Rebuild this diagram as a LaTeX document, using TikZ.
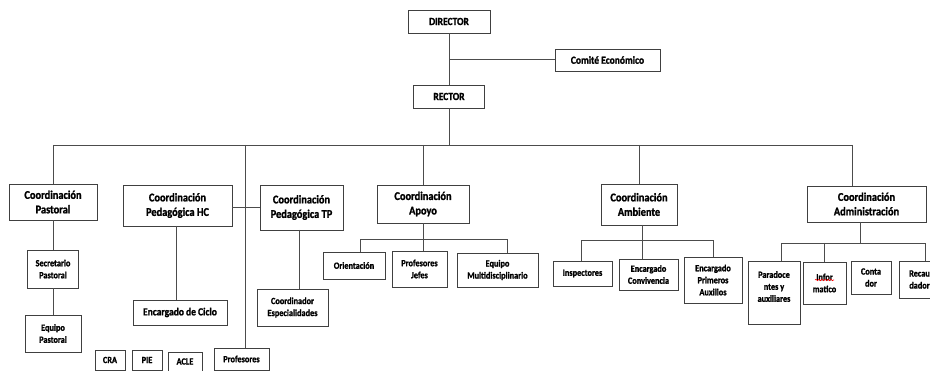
\documentclass[tikz,border=0pt]{standalone}
\usepackage{fontspec}
\setmainfont{Carlito}[FakeStretch=0.88, BoldFeatures={FakeBold=1.3}]
\usetikzlibrary{decorations.pathmorphing}
\begin{document}
\begin{tikzpicture}[x=1pt, y=-1pt, line width=0.9pt,
        box/.style={draw=black!75, inner sep=1pt, align=flush center, font=\bfseries\fontsize{9.4}{12}\selectfont},
        bigbox/.style={box, font=\bfseries\fontsize{11.8}{14.5}\selectfont},
        midbox/.style={box, font=\bfseries\fontsize{10.8}{13}\selectfont},
        link/.style={draw=black!70}]
    \useasboundingbox (0,0) rectangle (930,371);
    % top
    \node[midbox, minimum width=82pt, minimum height=23pt] (director) at (449,21.5) {DIRECTOR};
    \node[midbox, minimum width=105pt, minimum height=22pt] (comite) at (607.5,60) {Comité Económico};
    \node[midbox, minimum width=71pt, minimum height=23pt] (rector) at (449,96.5) {RECTOR};
    % coordinaciones
    \node[bigbox, minimum width=88pt, minimum height=36pt] (pastoral) at (53,202) {Coordinación\\Pastoral};
    \node[bigbox, minimum width=109pt, minimum height=41pt] (pedhc) at (177.5,205.5) {Coordinación\\Pedagógica HC};
    \node[bigbox, minimum width=83pt, minimum height=45pt] (pedtp) at (301.5,207.5) {Coordinación\\Pedagógica TP};
    \node[bigbox, minimum width=92pt, minimum height=38pt] (apoyo) at (423,204) {Coordinación\\Apoyo};
    \node[bigbox, minimum width=76pt, minimum height=41pt] (ambiente) at (639,204.5) {Coordinación\\Ambiente};
    \node[bigbox, minimum width=119pt, minimum height=36pt] (admin) at (866.5,204) {Coordinación\\Administración};
    % pastoral
    \node[box, minimum width=51pt, minimum height=38pt] (secretario) at (53,269) {Secretario\\Pastoral};
    \node[box, minimum width=56pt, minimum height=37pt] (equipo) at (53,333.5) {Equipo\\Pastoral};
    % pedagogica
    \node[midbox, minimum width=94pt, minimum height=25pt] (ciclo) at (180,312.5) {Encargado de Ciclo};
    \node[box, minimum width=71pt, minimum height=37pt] (especial) at (292.5,307.5) {Coordinador\\Especialidades};
    \node[box, minimum width=30pt, minimum height=20pt] (cra) at (110,360) {CRA};
    \node[box, minimum width=30pt, minimum height=20pt] (pie) at (147,360) {PIE};
    \node[box, minimum width=34pt, minimum height=19pt] (acle) at (185,361.5) {ACLE};
    \node[box, minimum width=55pt, minimum height=22pt] (profesores) at (241.5,359) {Profesores};
    % apoyo
    \node[box, minimum width=62pt, minimum height=27pt] (orientacion) at (354,265.5) {Orientación};
    \node[box, minimum width=55pt, minimum height=36pt] (jefes) at (419.5,269) {Profesores\\Jefes};
    \node[box, minimum width=81pt, minimum height=34pt] (multi) at (497.5,270) {Equipo\\Multidisciplinario};
    % ambiente
    \node[box, minimum width=59pt, minimum height=25pt] (inspectores) at (582.5,273.5) {Inspectores};
    \node[box, minimum width=59pt, minimum height=31pt] (convivencia) at (648.5,274.5) {Encargado\\Convivencia};
    \node[box, minimum width=58pt, minimum height=46pt] (auxilios) at (713,280) {Encargado\\Primeros\\Auxilios};
    % administracion
    \node[box, minimum width=52pt, minimum height=63pt] (paradoc) at (774,292.5) {Paradoce\\ntes y\\auxiliares\\~};
    \node[box, minimum width=43pt, minimum height=42pt] (informatico) at (824.5,283) {Infor\\matico};
    \node[box, minimum width=40pt, minimum height=33pt] (contador) at (871,277.5) {Conta\\dor};
    \node[box, minimum width=41pt, minimum height=37pt] (recaudador) at (919.5,279.5) {Recau\\dador};
    \draw[red, line width=0.6pt, decorate, decoration={snake, amplitude=0.7pt, segment length=3pt}] (815,280) -- (834,280);

    % connectors
    \coordinate (comitetap) at (449,59);
    \draw[link] (director) -- (rector);
    \draw[link] (comitetap) -- (comite.west |- comitetap);
    \coordinate (bus) at (449,145);
    \draw[link] (rector) -- (bus);
    \draw[link] (53,145) -- (852,145);
    \draw[link] (53,145) -- (pastoral.north);
    \draw[link] (245,145) -- (245,348) coordinate (proftap);
    \draw[link] (pedhc.east |- 0,207) -- (pedtp.west |- 0,207);
    \draw[link] (423,145) -- (apoyo.north);
    \draw[link] (639,145) -- (ambiente.north);
    \draw[link] (852,145) -- (852,186);
    \draw[link] (pastoral) -- (secretario) -- (equipo);
    \draw[link] (176,226) -- (176,300);
    \draw[link] (299,230) -- (299,289);
    % apoyo
    \draw[link] (apoyo.south) -- (423,239);
    \draw[link] (360,252) |- (507,239) -- (507,253);
    \draw[link] (423,239) -- (423,251);
    % ambiente
    \draw[link] (642,225) -- (642,259);
    \draw[link] (581,261) |- (713,240) -- (auxilios.north);
    % administracion
    \draw[link] (860,222) -- (860,243);
    \draw[link] (781,261) |- (925,243) -- (925,261);
    \draw[link] (824,243) -- (824,262);
\end{tikzpicture}
\end{document}
